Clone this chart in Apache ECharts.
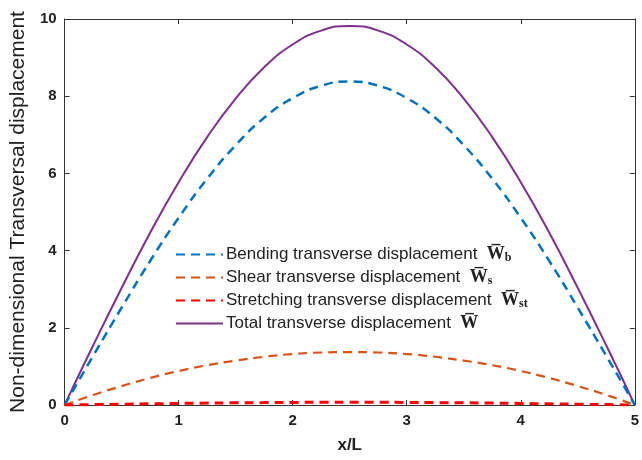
<!DOCTYPE html>
<html>
<head>
<meta charset="utf-8">
<script src="https://cdn.jsdelivr.net/npm/echarts@6/dist/echarts.min.js"></script>
<style>html,body{margin:0;padding:0;background:#fff}#c{width:642px;height:460px}</style>
</head>
<body>
<div id="c"></div>
<script>
var xVals = [0,0.25,0.5,0.75,1,1.25,1.5,1.75,2,2.25,2.5,2.75,3,3.25,3.5,3.75,4,4.25,4.5,4.75,5];
var bending = [0,1.27,2.52,3.73,4.85,5.86,6.73,7.44,7.95,8.27,8.38,8.27,7.95,7.44,6.73,5.86,4.85,3.73,2.52,1.27,0];
var shear = [0,0.26,0.49,0.70,0.88,1.03,1.15,1.25,1.32,1.36,1.37,1.36,1.32,1.25,1.15,1.03,0.88,0.70,0.49,0.26,0];
var stretching = [0,0.01,0.02,0.03,0.04,0.05,0.057,0.062,0.067,0.069,0.07,0.069,0.067,0.062,0.057,0.05,0.04,0.03,0.02,0.01,0];
var total = [0,1.54,3.03,4.46,5.77,6.94,7.94,8.75,9.34,9.70,9.82,9.70,9.34,8.75,7.94,6.94,5.77,4.46,3.03,1.54,0];
var names = ['Bending transverse displacement','Shear transverse displacement','Stretching transverse displacement','Total transverse displacement'];
var subs = ['b','s','st',''];

function pairs(arr){ return xVals.map(function(x,i){return [x,arr[i]];}); }

var chart = echarts.init(document.getElementById('c'));
var axisCol = '#333';
function mkSeries(name, data, color, dashed, width){
  return {name:name, type:'line', data:pairs(data), smooth:true, symbol:'none',
    lineStyle:{color:color, width:width, type: dashed ? [9,6] : 'solid'},
    itemStyle:{color:color}, z: dashed?3:2, animation:false};
}
chart.setOption({
  animation:false,
  grid:{left:62,right:1,top:19,bottom:55,containLabel:false},
  legend:{
    orient:'vertical', left:170, top:240, itemGap:4, itemWidth:47, itemHeight:14,
    data:names,
    itemStyle:{opacity:0},
    textStyle:{fontFamily:'Liberation Sans, Arial', fontSize:17, color:'#222', lineHeight:19, padding:[0,0,0,-2],
      rich:{
        w:{fontFamily:'Liberation Serif, DejaVu Serif', fontWeight:'bold', fontSize:18, color:'#222', lineHeight:19},
        s:{fontFamily:'Liberation Serif, DejaVu Serif', fontWeight:'bold', fontSize:12, color:'#222', lineHeight:19, padding:[7,0,0,0]}
      }},
    formatter:function(name){
      var i = names.indexOf(name);
      return name + '  {w|W\u0305}' + (subs[i] ? '{s|' + subs[i] + '}' : '');
    }
  },
  xAxis:[{
    type:'value', min:0, max:5, interval:1,
    name:'x/L', nameLocation:'middle', nameGap:32,
    nameTextStyle:{fontFamily:'Liberation Sans, Arial', fontWeight:'bold', fontSize:17, color:'#222'},
    axisLine:{show:true, lineStyle:{color:axisCol}},
    axisTick:{show:true, inside:true, length:5, lineStyle:{color:axisCol}},
    axisLabel:{fontFamily:'Liberation Sans, Arial', fontWeight:'bold', fontSize:15, color:'#222', margin:8},
    splitLine:{show:false}
  },{
    type:'value', min:0, max:5, interval:1, position:'top',
    axisLine:{show:true, onZero:false, lineStyle:{color:axisCol}},
    axisTick:{show:true, inside:true, length:5, lineStyle:{color:axisCol}},
    axisLabel:{show:false}, splitLine:{show:false}
  }],
  yAxis:[{
    type:'value', min:0, max:10, interval:2,
    name:'Non-dimensional Transversal displacement', nameLocation:'middle', nameGap:30, nameRotate:90,
    nameTextStyle:{fontFamily:'Liberation Sans, Arial', fontSize:21, color:'#222'},
    axisLine:{show:true, lineStyle:{color:axisCol}},
    axisTick:{show:true, inside:true, length:5, lineStyle:{color:axisCol}},
    axisLabel:{fontFamily:'Liberation Sans, Arial', fontWeight:'bold', fontSize:15, color:'#222', margin:8},
    splitLine:{show:false}
  },{
    type:'value', min:0, max:10, interval:2, position:'right',
    axisLine:{show:true, onZero:false, lineStyle:{color:axisCol}},
    axisTick:{show:true, inside:true, length:5, lineStyle:{color:axisCol}},
    axisLabel:{show:false}, splitLine:{show:false}
  }],
  series:[
    mkSeries(names[0], bending, '#0072BD', true, 2.5),
    mkSeries(names[1], shear, '#D95319', true, 2.2),
    mkSeries(names[2], stretching, '#FF0000', true, 3),
    mkSeries(names[3], total, '#7E2F8E', false, 2)
  ]
});
</script>
</body>
</html>
